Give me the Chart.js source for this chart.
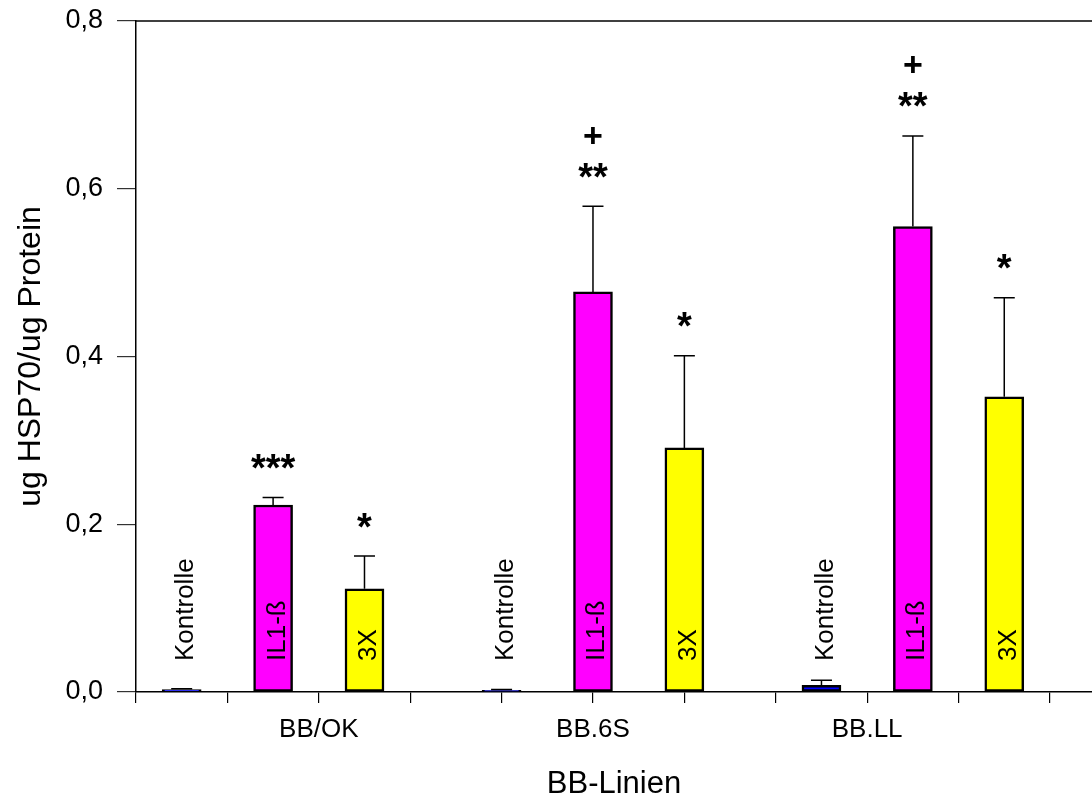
<!DOCTYPE html>
<html>
<head>
<meta charset="utf-8">
<script src="https://cdn.jsdelivr.net/npm/chart.js@4.4.1/dist/chart.umd.min.js"></script>
<style>
  html, body { margin: 0; padding: 0; background: #ffffff; }
  canvas { display: block; }
</style>
</head>
<body>
<canvas id="chart" width="1092" height="803"></canvas>
<script>
// BB rat lines and where their names sit on the x axis
const lines = ['BB/OK', 'BB.6S', 'BB.LL'];
const lineTickPos = [2, 5, 8];
// tick marks along the x axis
const xTickPos = [0, 1, 2, 3, 4, 5, 6, 7, 8, 9, 10];

// treatment names (drawn rotated inside / above each bar)
const treatments = ['Kontrolle', 'IL1-ß', '3X'];

// bar positions on the x axis, one per line
const kontrollePos = [0.5, 4, 7.5];
const il1Pos = [1.5, 5, 8.5];
const x3Pos = [2.5, 6, 9.5];

// ug HSP70 / ug protein: means and upper error (SEM)
const kontrolleMean = [0.003, 0.002, 0.008];
const kontrolleErr = [0.001, 0.001, 0.006];
const il1Mean = [0.223, 0.477, 0.555];
const il1Err = [0.009, 0.102, 0.108];
const x3Mean = [0.123, 0.291, 0.352];
const x3Err = [0.039, 0.110, 0.118];

// significance marks, listed from the error bar upward
const kontrolleSig = [[], [], []];
const il1Sig = [['***'], ['**', '+'], ['**', '+']];
const x3Sig = [['*'], ['*'], ['*']];

// y axis range and tick step
const yMin = 0;
const yMax = 0.8;
const yStep = 0.2;

const FONT = '"Liberation Sans", Arial, sans-serif';

function points(pos, mean, err, sig) {
  return pos.map((x, i) => ({ x: x, y: mean[i], err: err[i], sig: sig[i] }));
}

// error bars, significance marks and rotated treatment names
const barExtras = {
  id: 'barExtras',
  afterDatasetsDraw(chart) {
    const { ctx, scales } = chart;
    const ys = scales.y;
    const zeroY = ys.getPixelForValue(0);
    chart.data.datasets.forEach((ds, di) => {
      const meta = chart.getDatasetMeta(di);
      meta.data.forEach((bar, i) => {
        const raw = ds.data[i];
        const cx = bar.x;
        const topY = ys.getPixelForValue(raw.y);
        const capY = ys.getPixelForValue(raw.y + raw.err);

        ctx.save();
        ctx.strokeStyle = '#000000';
        ctx.lineWidth = 1.5;
        ctx.beginPath();
        ctx.moveTo(cx, topY);
        ctx.lineTo(cx, capY);
        ctx.moveTo(cx - 10.5, capY);
        ctx.lineTo(cx + 10.5, capY);
        ctx.stroke();

        ctx.fillStyle = '#000000';
        ctx.textAlign = 'center';
        ctx.textBaseline = 'alphabetic';
        raw.sig.forEach((s, k) => {
          ctx.font = (s === '+' ? 'bold 34px ' : 'bold 38px ') + FONT;
          const m = ctx.measureText(s);
          const centerY = capY - 36 - 35 * k;
          ctx.fillText(s, cx, centerY + (m.actualBoundingBoxAscent - m.actualBoundingBoxDescent) / 2);
        });

        ctx.translate(cx + 11.5, zeroY - 31);
        ctx.rotate(-Math.PI / 2);
        ctx.font = '26px ' + FONT;
        ctx.textAlign = 'left';
        ctx.textBaseline = 'alphabetic';
        ctx.fillText(ds.label, 0, 0);
        ctx.restore();
      });
    });
  },
  afterDraw(chart) {
    // closing line along the top of the plot area
    const { ctx, chartArea } = chart;
    ctx.save();
    ctx.strokeStyle = '#000000';
    ctx.lineWidth = 1.5;
    ctx.beginPath();
    ctx.moveTo(chartArea.left - 0.75, chartArea.top);
    ctx.lineTo(chartArea.right, chartArea.top);
    ctx.stroke();
    ctx.restore();
  }
};

const barStyle = {
  borderColor: '#000000',
  borderWidth: 2.5,
  borderSkipped: false,
  barThickness: 39,
  grouped: false
};

new Chart(document.getElementById('chart'), {
  type: 'bar',
  data: {
    datasets: [
      Object.assign({ label: treatments[0], data: points(kontrollePos, kontrolleMean, kontrolleErr, kontrolleSig), backgroundColor: '#0000ff' }, barStyle),
      Object.assign({ label: treatments[1], data: points(il1Pos, il1Mean, il1Err, il1Sig), backgroundColor: '#ff00ff' }, barStyle),
      Object.assign({ label: treatments[2], data: points(x3Pos, x3Mean, x3Err, x3Sig), backgroundColor: '#ffff00' }, barStyle)
    ]
  },
  options: {
    responsive: false,
    animation: false,
    devicePixelRatio: 1,
    layout: { padding: { top: 21, left: 0, right: 0, bottom: 0 } },
    plugins: { legend: { display: false }, tooltip: { enabled: false } },
    scales: {
      x: {
        type: 'linear',
        offset: false,
        min: 0,
        max: 10.46,
        afterBuildTicks(scale) { scale.ticks = xTickPos.map(v => ({ value: v })); },
        afterFit(scale) {
          scale.height = 111;
          scale.paddingLeft = 0;
          scale.paddingRight = 0;
        },
        grid: { offset: false, drawOnChartArea: false, drawTicks: true, tickLength: 11, color: '#000000', lineWidth: 1.2 },
        border: { display: true, color: '#000000', width: 1.5 },
        ticks: {
          autoSkip: false,
          maxRotation: 0,
          padding: 11,
          color: '#000000',
          font: { family: FONT, size: 26 },
          callback(value) {
            const k = lineTickPos.indexOf(value);
            return k >= 0 ? lines[k] : '';
          }
        },
        title: {
          display: true,
          text: 'BB-Linien',
          color: '#000000',
          font: { family: FONT, size: 31 },
          padding: { top: 0, bottom: 0 }
        }
      },
      y: {
        min: yMin,
        max: yMax,
        afterFit(scale) {
          scale.width = 136;
          scale.paddingTop = 0;
          scale.paddingBottom = 0;
        },
        grid: { drawOnChartArea: false, drawTicks: true, tickLength: 19, color: '#333333', lineWidth: 1.2 },
        border: { display: true, color: '#000000', width: 1.5 },
        ticks: {
          stepSize: yStep,
          padding: 14,
          color: '#000000',
          font: { family: FONT, size: 27 },
          callback(value) { return value.toFixed(1).replace('.', ','); }
        },
        title: {
          display: true,
          text: 'ug HSP70/ug Protein',
          color: '#000000',
          font: { family: FONT, size: 32 },
          padding: { top: 12, bottom: 0 }
        }
      }
    }
  },
  plugins: [barExtras]
});
</script>
</body>
</html>
